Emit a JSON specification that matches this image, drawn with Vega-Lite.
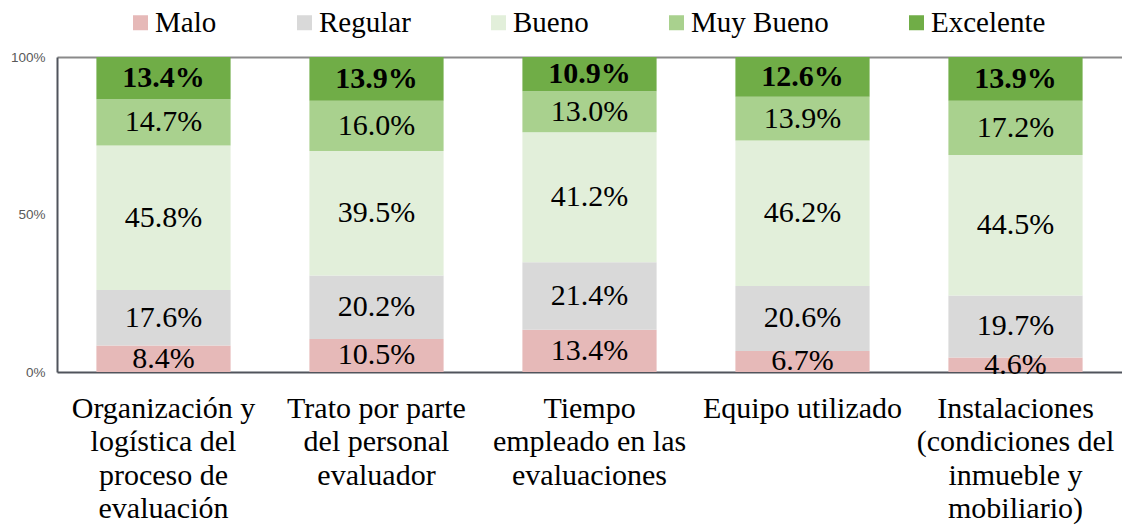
{
  "$schema": "https://vega.github.io/schema/vega-lite/v6.json",
  "width": 1065,
  "height": 315,
  "autosize": {"type": "none"},
  "padding": {"left": 57, "top": 57, "right": 0, "bottom": 155},
  "background": "white",
  "config": {"view": {"stroke": null}, "font": "Liberation Serif"},
  "data": {"values": [
    {"aspecto": "Organización y|logística del|proceso de|evaluación", "nivel": "Malo", "k": 1, "pct": 0.084},
    {"aspecto": "Organización y|logística del|proceso de|evaluación", "nivel": "Regular", "k": 2, "pct": 0.176},
    {"aspecto": "Organización y|logística del|proceso de|evaluación", "nivel": "Bueno", "k": 3, "pct": 0.458},
    {"aspecto": "Organización y|logística del|proceso de|evaluación", "nivel": "Muy Bueno", "k": 4, "pct": 0.147},
    {"aspecto": "Organización y|logística del|proceso de|evaluación", "nivel": "Excelente", "k": 5, "pct": 0.134},
    {"aspecto": "Trato por parte|del personal|evaluador", "nivel": "Malo", "k": 1, "pct": 0.105},
    {"aspecto": "Trato por parte|del personal|evaluador", "nivel": "Regular", "k": 2, "pct": 0.202},
    {"aspecto": "Trato por parte|del personal|evaluador", "nivel": "Bueno", "k": 3, "pct": 0.395},
    {"aspecto": "Trato por parte|del personal|evaluador", "nivel": "Muy Bueno", "k": 4, "pct": 0.160},
    {"aspecto": "Trato por parte|del personal|evaluador", "nivel": "Excelente", "k": 5, "pct": 0.139},
    {"aspecto": "Tiempo|empleado en las|evaluaciones", "nivel": "Malo", "k": 1, "pct": 0.134},
    {"aspecto": "Tiempo|empleado en las|evaluaciones", "nivel": "Regular", "k": 2, "pct": 0.214},
    {"aspecto": "Tiempo|empleado en las|evaluaciones", "nivel": "Bueno", "k": 3, "pct": 0.412},
    {"aspecto": "Tiempo|empleado en las|evaluaciones", "nivel": "Muy Bueno", "k": 4, "pct": 0.130},
    {"aspecto": "Tiempo|empleado en las|evaluaciones", "nivel": "Excelente", "k": 5, "pct": 0.109},
    {"aspecto": "Equipo utilizado", "nivel": "Malo", "k": 1, "pct": 0.067},
    {"aspecto": "Equipo utilizado", "nivel": "Regular", "k": 2, "pct": 0.206},
    {"aspecto": "Equipo utilizado", "nivel": "Bueno", "k": 3, "pct": 0.462},
    {"aspecto": "Equipo utilizado", "nivel": "Muy Bueno", "k": 4, "pct": 0.139},
    {"aspecto": "Equipo utilizado", "nivel": "Excelente", "k": 5, "pct": 0.126},
    {"aspecto": "Instalaciones|(condiciones del|inmueble y|mobiliario)", "nivel": "Malo", "k": 1, "pct": 0.046},
    {"aspecto": "Instalaciones|(condiciones del|inmueble y|mobiliario)", "nivel": "Regular", "k": 2, "pct": 0.197},
    {"aspecto": "Instalaciones|(condiciones del|inmueble y|mobiliario)", "nivel": "Bueno", "k": 3, "pct": 0.445},
    {"aspecto": "Instalaciones|(condiciones del|inmueble y|mobiliario)", "nivel": "Muy Bueno", "k": 4, "pct": 0.172},
    {"aspecto": "Instalaciones|(condiciones del|inmueble y|mobiliario)", "nivel": "Excelente", "k": 5, "pct": 0.139}
  ]},
  "encoding": {
    "x": {
      "field": "aspecto", "type": "nominal", "sort": null,
      "scale": {"paddingInner": 0.37, "paddingOuter": 0.185},
      "axis": {
        "title": null, "labelExpr": "split(datum.label, '|')", "labelAngle": 0,
        "labelFont": "Liberation Serif", "labelFontSize": 30, "labelColor": "#000000",
        "labelLineHeight": 33.5, "labelPadding": 21, "labelLimit": 0, "labelOverlap": false,
        "labelBound": false, "ticks": false, "domainColor": "#50545c", "domainWidth": 2
      }
    }
  },
  "layer": [
    {
      "mark": {"type": "bar"},
      "encoding": {
        "y": {
          "field": "pct", "type": "quantitative", "stack": "normalize",
          "axis": {
            "title": null, "values": [0, 0.5, 1], "format": ".0%",
            "labelFont": "Liberation Sans", "labelFontSize": 13.5, "labelColor": "#595959",
            "labelPadding": 12, "ticks": false, "domainColor": "#50545c", "domainWidth": 2,
            "grid": true, "gridColor": "#8a8a8a", "gridWidth": 2,
            "gridOpacity": {"condition": {"test": "datum.value === 1", "value": 1}, "value": 0}
          }
        },
        "order": {"field": "k", "type": "quantitative"},
        "color": {
          "field": "nivel", "type": "nominal",
          "scale": {
            "domain": ["Malo", "Regular", "Bueno", "Muy Bueno", "Excelente"],
            "range": ["#E6B9B8", "#D9D9D9", "#E2EFDA", "#A9D18E", "#70AD47"]
          },
          "legend": {
            "title": null, "orient": "none", "legendX": 69, "legendY": -49,
            "direction": "horizontal", "symbolType": "square", "symbolSize": 225,
            "symbolStrokeWidth": 0, "labelFont": "Liberation Serif", "labelFontSize": 29,
            "labelColor": "#000000", "labelOffset": 0, "columnPadding": 73, "labelLimit": 0
          }
        }
      }
    },
    {
      "mark": {"type": "text", "font": "Liberation Serif", "fontSize": 30, "color": "#000000"},
      "encoding": {
        "y": {"field": "pct", "type": "quantitative", "stack": "normalize", "bandPosition": 0.5},
        "order": {"field": "k", "type": "quantitative"},
        "detail": {"field": "nivel"},
        "text": {"field": "pct", "type": "quantitative", "format": ".1%"},
        "opacity": {"condition": {"test": "datum.nivel === 'Excelente'", "value": 0}, "value": 1}
      }
    },
    {
      "mark": {"type": "text", "font": "Liberation Serif", "fontSize": 30, "fontWeight": "bold", "color": "#000000"},
      "encoding": {
        "y": {"field": "pct", "type": "quantitative", "stack": "normalize", "bandPosition": 0.5},
        "order": {"field": "k", "type": "quantitative"},
        "detail": {"field": "nivel"},
        "text": {"field": "pct", "type": "quantitative", "format": ".1%"},
        "opacity": {"condition": {"test": "datum.nivel === 'Excelente'", "value": 1}, "value": 0}
      }
    }
  ]
}
